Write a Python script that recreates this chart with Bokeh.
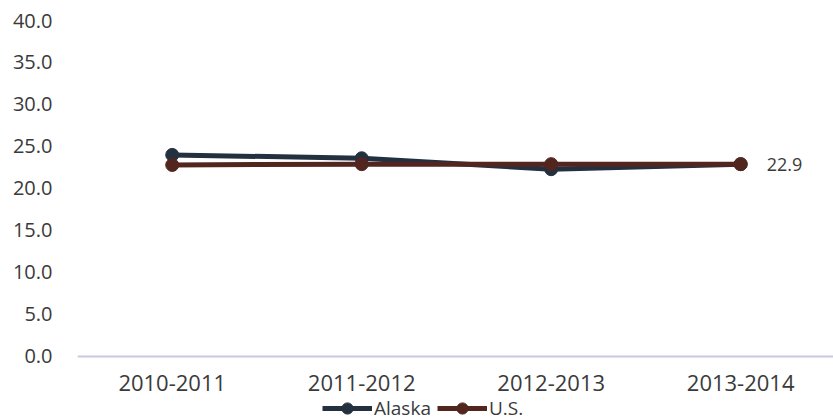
from bokeh.plotting import figure
from bokeh.models import (ColumnDataSource, Legend, LegendItem, FixedTicker,
                          NumeralTickFormatter, Range1d, Span)
from bokeh.core.properties import value
from bokeh.embed import file_html
from bokeh.resources import INLINE

# School years on the x axis and the two series
years = ["2010-2011", "2011-2012", "2012-2013", "2013-2014"]
alaska = [24.0, 23.6, 22.3, 22.9]
us = [22.8, 22.9, 22.9, 22.9]
y_ticks = [0, 5, 10, 15, 20, 25, 30, 35, 40]

FONT = "Open Sans"
TEXT = "#3a3a3a"
ALASKA_COLOR = "#233040"
US_COLOR = "#52261f"
LINE_W = 5
DOT = 13

idx = list(range(len(years)))
src = ColumnDataSource(dict(x=idx, alaska=alaska, us=us))
cat_src = ColumnDataSource(dict(x=idx, y=[0] * len(years), label=years))

# The plotting area runs down to the bottom edge so the category row and
# the legend can live below the zero line inside it.
p = figure(width=833, height=420, output_backend="svg", toolbar_location=None,
           x_range=Range1d(-0.5, len(years) - 0.51),
           y_range=Range1d(-7.62, 40))
p.min_border_left = 77
p.min_border_right = 0
p.min_border_top = 20
p.min_border_bottom = 0
p.outline_line_color = None
p.background_fill_color = "white"
p.border_fill_color = "white"
p.xgrid.visible = False
p.ygrid.visible = False
p.xaxis.visible = False

p.yaxis.ticker = FixedTicker(ticks=y_ticks)
p.yaxis.formatter = NumeralTickFormatter(format="0.0")
p.yaxis.axis_line_color = None
p.yaxis.major_tick_line_color = None
p.yaxis.minor_tick_line_color = None
p.yaxis.major_label_text_font = FONT
p.yaxis.major_label_text_font_size = "20px"
p.yaxis.major_label_text_color = TEXT
p.yaxis.major_label_standoff = 19

# Category baseline and labels
p.add_layout(Span(location=0, dimension="width", line_color="#c9c9de",
                  line_width=2))
p.text("x", "y", text="label", source=cat_src, y_offset=27,
       text_align="center", text_baseline="middle",
       text_font=value(FONT), text_font_size="22px", text_color=TEXT)

# Series
a_line = p.line("x", "alaska", source=src, line_color=ALASKA_COLOR,
                line_width=LINE_W)
a_dot = p.scatter("x", "alaska", source=src, size=DOT,
                  fill_color=ALASKA_COLOR, line_color=ALASKA_COLOR)
u_line = p.line("x", "us", source=src, line_color=US_COLOR, line_width=LINE_W)
u_dot = p.scatter("x", "us", source=src, size=DOT, fill_color=US_COLOR,
                  line_color=US_COLOR)

# Value label at the last U.S. point
last = len(years) - 1
p.text(x=[idx[last]], y=[us[last]], text=[f"{us[last]:.1f}"],
       x_offset=26, text_baseline="middle", text_align="left",
       text_font=value(FONT), text_font_size="18px", text_color=TEXT)

legend = Legend(items=[
    LegendItem(label="Alaska", renderers=[a_line, a_dot]),
    LegendItem(label="U.S.", renderers=[u_line, u_dot]),
], orientation="horizontal", location=(245, -2))
legend.glyph_width = 50
legend.glyph_height = 28
legend.label_text_font = FONT
legend.label_text_font_size = "19px"
legend.label_text_color = TEXT
legend.label_standoff = 2
legend.spacing = 6
legend.padding = 0
legend.margin = 0
legend.border_line_color = None
legend.background_fill_alpha = 0
p.add_layout(legend, "center")

open("out.html", "w").write(file_html(p, INLINE))
